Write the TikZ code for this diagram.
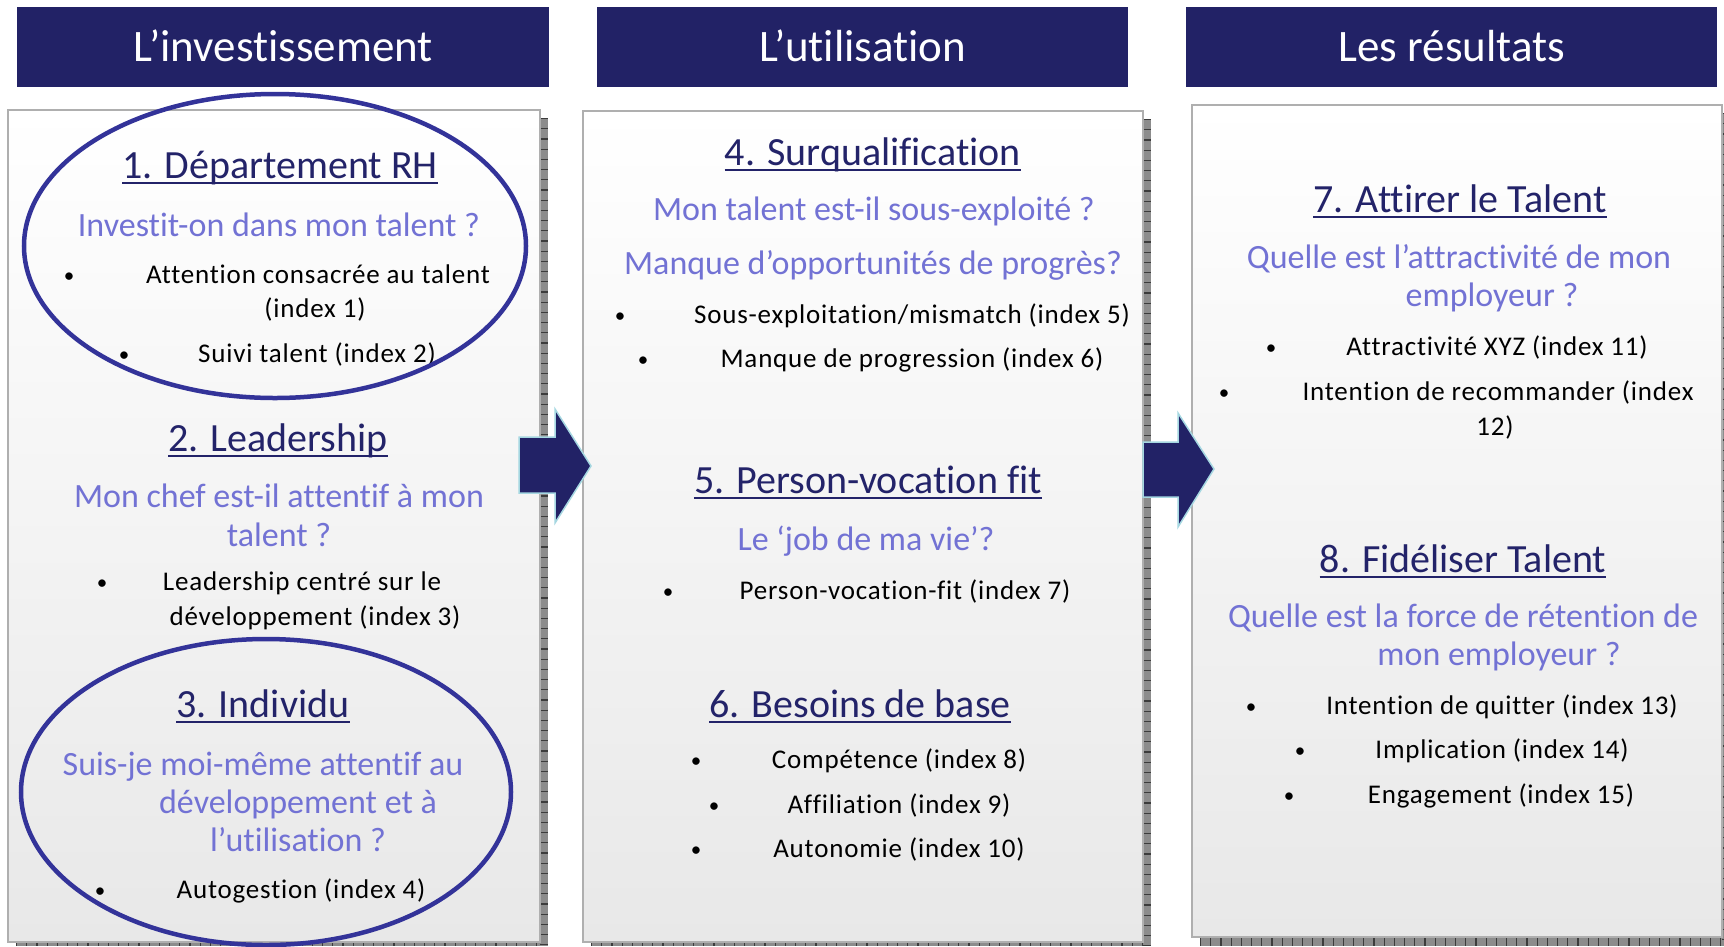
\documentclass[tikz,border=0pt]{standalone}
\usepackage{fontspec}
\setmainfont{Carlito}[Ligatures=NoCommon]
\newfontfamily\bodyfont{Carlito}[LetterSpace=3,Ligatures=NoCommon]
\usetikzlibrary{shapes.geometric}
\definecolor{navy}{RGB}{34,34,102}
\definecolor{ttlc}{RGB}{35,35,105}
\definecolor{qcol}{RGB}{114,114,212}
\definecolor{ellc}{RGB}{51,51,153}
\definecolor{boxborder}{RGB}{175,175,175}
\definecolor{boxbot}{RGB}{232,232,232}
\definecolor{boxmid}{RGB}{243,243,243}
\definecolor{shadowc}{RGB}{140,140,140}
\definecolor{tickc}{RGB}{60,60,60}
\definecolor{arrowedge}{RGB}{165,215,225}
\definecolor{bandc}{RGB}{225,225,225}
\tikzset{
  hdr/.style={fill=navy, text=white, minimum width=532pt, minimum height=80pt, inner sep=0pt,
    font=\fontsize{45}{54}\selectfont, text height=29pt, text depth=0pt, anchor=north west},
  ttl/.style={anchor=base, text=ttlc, inner sep=0pt, font=\fontsize{40}{48}\selectfont},
  qst/.style={anchor=base, text=qcol, inner sep=0pt, font=\fontsize{34}{40}\selectfont},
  bdy/.style={anchor=base, text=black, inner sep=0pt, font=\bodyfont\fontsize{27}{32}\selectfont},
  blt/.style={anchor=base, text=black, inner sep=0pt, font=\fontsize{21}{26}\selectfont, yshift=1pt},
  ulstyle/.style={draw=ttlc, line width=2pt},
  boxshade/.style={top color=white, middle color=boxmid, bottom color=boxbot},
  boxline/.style={draw=boxborder, line width=2pt},
  shadowfill/.style={fill=shadowc},
  shadowtick/.style={draw=tickc, dash pattern=on 1.2pt off 9pt},
  ell/.style={draw=ellc, line width=4.5pt},
  bigarrow/.style={fill=navy, draw=arrowedge, line width=1.5pt, line join=miter}
}
\begin{document}
\begin{tikzpicture}[x=1pt,y=-1pt]
\useasboundingbox (0,0) rectangle (1724,946);
% faint background band
\shade[top color=white, middle color=bandc, bottom color=white] (0,430) rectangle (1724,720);

% headers
\node[hdr] (h1) at (17,7) {L’investissement};
\node[hdr, minimum width=531pt] (h2) at (597,7) {L’utilisation};
\node[hdr, minimum width=531pt] (h3) at (1186,7) {Les résultats};

% shadows
\fill[shadowfill] (540,118) rectangle (548,946);
\fill[shadowfill] (16,942) rectangle (548,946);
\draw[shadowtick, line width=8pt] (544,118) -- (544,946);
\draw[shadowtick, line width=4pt] (16,944) -- (540,944);
\fill[shadowfill] (1143,119) rectangle (1151,946);
\fill[shadowfill] (591,942) rectangle (1151,946);
\draw[shadowtick, line width=8pt] (1147,119) -- (1147,946);
\draw[shadowtick, line width=4pt] (591,944) -- (1143,944);
\fill[shadowfill] (1722,113) rectangle (1730,946);
\fill[shadowfill] (1200,937) rectangle (1730,946);
\draw[shadowtick, line width=8pt] (1726,113) -- (1726,946);
\draw[shadowtick, line width=9pt] (1200,941.5) -- (1722,941.5);

% boxes
\shade[boxshade] (8,110) rectangle (540,942);
\draw[boxline] (8,110) rectangle (540,942);
\shade[boxshade] (583,111) rectangle (1143,942);
\draw[boxline] (583,111) rectangle (1143,942);
\shade[boxshade] (1192,105) rectangle (1722,937);
\draw[boxline] (1192,105) rectangle (1722,937);

% arrows
\draw[bigarrow] (519,437) -- (555,437) -- (555,409) -- (591,466) -- (555,523) -- (555,493) -- (519,493) -- cycle;
\draw[bigarrow] (1143,442) -- (1178,442) -- (1178,413) -- (1214,469) -- (1178,527) -- (1178,497) -- (1143,497) -- cycle;

% ---- column 1
\node[ttl] (t1) at (280,178) {1. Département RH};
\node[qst] (q1) at (279,236) {Investit-on dans mon talent ?};
\node[blt] (b1a) at (69,283) {•};
\node[bdy] (l1a) at (318,283) {Attention consacrée au talent};
\node[bdy] (l1b) at (315,317) {(index 1)};
\node[blt] (b1b) at (124,362) {•};
\node[bdy] (l1c) at (317,362) {Suivi talent (index 2)};

\node[ttl] (t2) at (278,451) {2. Leadership};
\node[qst] (q2a) at (279,507) {Mon chef est-il attentif à mon};
\node[qst] (q2b) at (279,546) {talent ?};
\node[blt] (b2a) at (102,590) {•};
\node[bdy] (l2a) at (302,590) {Leadership centré sur le};
\node[bdy] (l2b) at (315,625) {développement (index 3)};

\node[ttl] (t3) at (263,717) {3. Individu};
\node[qst] (q3a) at (263,775) {Suis-je moi-même attentif au};
\node[qst] (q3b) at (298,813) {développement et à};
\node[qst] (q3c) at (298,851) {l’utilisation ?};
\node[blt] (b3a) at (100,898) {•};
\node[bdy] (l3a) at (301,898) {Autogestion (index 4)};

% ---- column 2
\node[ttl] (t4) at (873,165) {4. Surqualification};
\node[qst] (q4a) at (874,220) {Mon talent est-il sous-exploité ?};
\node[qst] (q4b) at (873,274) {Manque d’opportunités de progrès?};
\node[blt] (b4a) at (620,323) {•};
\node[bdy] (l4a) at (912,323) {Sous-exploitation/mismatch (index 5)};
\node[blt] (b4b) at (643,367) {•};
\node[bdy] (l4b) at (912,367) {Manque de progression (index 6)};

\node[ttl] (t5) at (868,493) {5. Person-vocation fit};
\node[qst] (q5) at (866,550) {Le ‘job de ma vie’?};
\node[blt] (b5a) at (668,599) {•};
\node[bdy] (l5a) at (905,599) {Person-vocation-fit (index 7)};

\node[ttl] (t6) at (860,717) {6. Besoins de base};
\node[blt] (b6a) at (696,768) {•};
\node[bdy] (l6a) at (899,768) {Compétence (index 8)};
\node[blt] (b6b) at (714,813) {•};
\node[bdy] (l6b) at (899,813) {Affiliation (index 9)};
\node[blt] (b6c) at (696,857) {•};
\node[bdy] (l6c) at (899,857) {Autonomie (index 10)};

% ---- column 3
\node[ttl] (t7) at (1460,212) {7. Attirer le Talent};
\node[qst] (q7a) at (1459,268) {Quelle est l’attractivité de mon};
\node[qst] (q7b) at (1492,306) {employeur ?};
\node[blt] (b7a) at (1271,355) {•};
\node[bdy] (l7a) at (1497,355) {Attractivité XYZ (index 11)};
\node[blt] (b7b) at (1224,400) {•};
\node[bdy] (l7b) at (1498,400) {Intention de recommander (index};
\node[bdy] (l7c) at (1495,435) {12)};

\node[ttl] (t8) at (1463,572) {8. Fidéliser Talent};
\node[qst] (q8a) at (1463,627) {Quelle est la force de rétention de};
\node[qst] (q8b) at (1499,665) {mon employeur ?};
\node[blt] (b8a) at (1251,714) {•};
\node[bdy] (l8a) at (1502,714) {Intention de quitter (index 13)};
\node[blt] (b8b) at (1300,758) {•};
\node[bdy] (l8b) at (1502,758) {Implication (index 14)};
\node[blt] (b8c) at (1289,803) {•};
\node[bdy] (l8c) at (1501,803) {Engagement (index 15)};

% underlines
\foreach \n in {t1,t2,t3,t4,t5,t6,t7,t8}
  \draw[ulstyle] ([yshift=-5pt]\n.base west) -- ([yshift=-5pt]\n.base east);

% ellipses
\node[ell, ellipse, minimum width=502pt, minimum height=304pt, inner sep=0pt] (e1) at (275,246) {};
\node[ell, ellipse, minimum width=490pt, minimum height=306pt, inner sep=0pt] (e2) at (266,792) {};
\end{tikzpicture}
\end{document}
